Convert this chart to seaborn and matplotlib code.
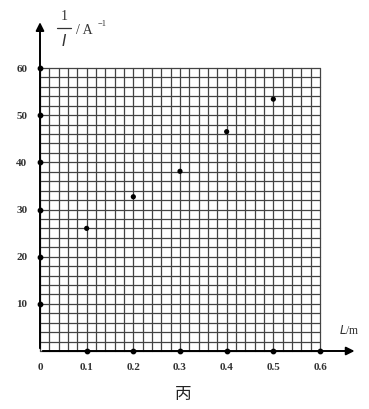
import matplotlib
matplotlib.use("Agg")
import matplotlib.pyplot as plt
from matplotlib.lines import Line2D
import numpy as np
import pandas as pd
import seaborn as sns

# data
L_vals = [0.1, 0.2, 0.3, 0.4, 0.5]
invI_vals = [26.0, 32.7, 38.1, 46.5, 53.4]
x_ticks = [0, 0.1, 0.2, 0.3, 0.4, 0.5, 0.6]
x_labels = ["0", "0.1", "0.2", "0.3", "0.4", "0.5", "0.6"]
y_ticks = [10, 20, 30, 40, 50, 60]

df = pd.DataFrame({"L": L_vals, "invI": invI_vals})

sns.set_style("white")
plt.rcParams["font.family"] = ["Liberation Serif", "DejaVu Serif"]

fig = plt.figure(figsize=(3.69, 4.09), dpi=100)
ax = fig.add_axes([40 / 369, 58 / 409, 280 / 369, 283 / 409])

# grid paper
for gx in np.arange(0, 0.6001, 0.02):
    ax.plot([gx, gx], [0, 60], color="#444444", lw=0.9, zorder=1, clip_on=False)
for gy in np.arange(0, 60.001, 2):
    ax.plot([0, 0.6], [gy, gy], color="#444444", lw=0.9, zorder=1, clip_on=False)

sns.scatterplot(data=df, x="L", y="invI", ax=ax, color="black", s=14,
                edgecolor="none", zorder=5)

ax.set_xlim(0, 0.6)
ax.set_ylim(0, 60)
for s in ax.spines.values():
    s.set_visible(False)

# axes with arrows
ax.annotate("", xy=(0.68, 0), xytext=(0, 0), xycoords="data",
            arrowprops=dict(arrowstyle="-|>", color="black", lw=1.4,
                            mutation_scale=12), annotation_clip=False)
ax.annotate("", xy=(0, 70.3), xytext=(0, 0), xycoords="data",
            arrowprops=dict(arrowstyle="-|>", color="black", lw=1.4,
                            mutation_scale=12), annotation_clip=False)

# tick dots on axes
ax.scatter(x_ticks[1:], [0] * 6, s=10, color="black", zorder=6, clip_on=False)
ax.scatter([0] * 6, y_ticks, s=10, color="black", zorder=6, clip_on=False)

ax.set_xticks(x_ticks)
ax.set_xticklabels(x_labels, fontsize=8, fontweight="bold", color="#333333")
ax.set_yticks(y_ticks)
ax.set_yticklabels([str(v) for v in y_ticks], fontsize=8, fontweight="bold",
                   color="#333333")
ax.tick_params(length=0, pad=9)
ax.set_xlabel("")
ax.set_ylabel("")

# axis titles
fig.text(339 / 369, 1 - 330 / 409, "$L$/m", fontsize=8.5, color="#333333",
         ha="left", va="center")
fig.text(64 / 369, 1 - 17 / 409, "1", fontsize=10, color="#333333",
         ha="center", va="center")
fig.add_artist(Line2D([57 / 369, 71 / 369], [1 - 28 / 409, 1 - 28 / 409],
                      color="#333333", lw=0.9))
fig.text(64 / 369, 1 - 41 / 409, "$I$", fontsize=11, color="#333333",
         ha="center", va="center")
fig.text(76 / 369, 1 - 30 / 409, "/ A", fontsize=10, color="#333333",
         ha="left", va="center")
fig.text(98 / 369, 1 - 24 / 409, "−1", fontsize=6, color="#333333",
         ha="left", va="center")

fig.text(183 / 369, 1 - 395 / 409, "丙", fontsize=12, ha="center", va="center",
         family=["Noto Sans CJK SC", "DejaVu Sans"], color="#222222")

fig.savefig("out.png", dpi=100)
